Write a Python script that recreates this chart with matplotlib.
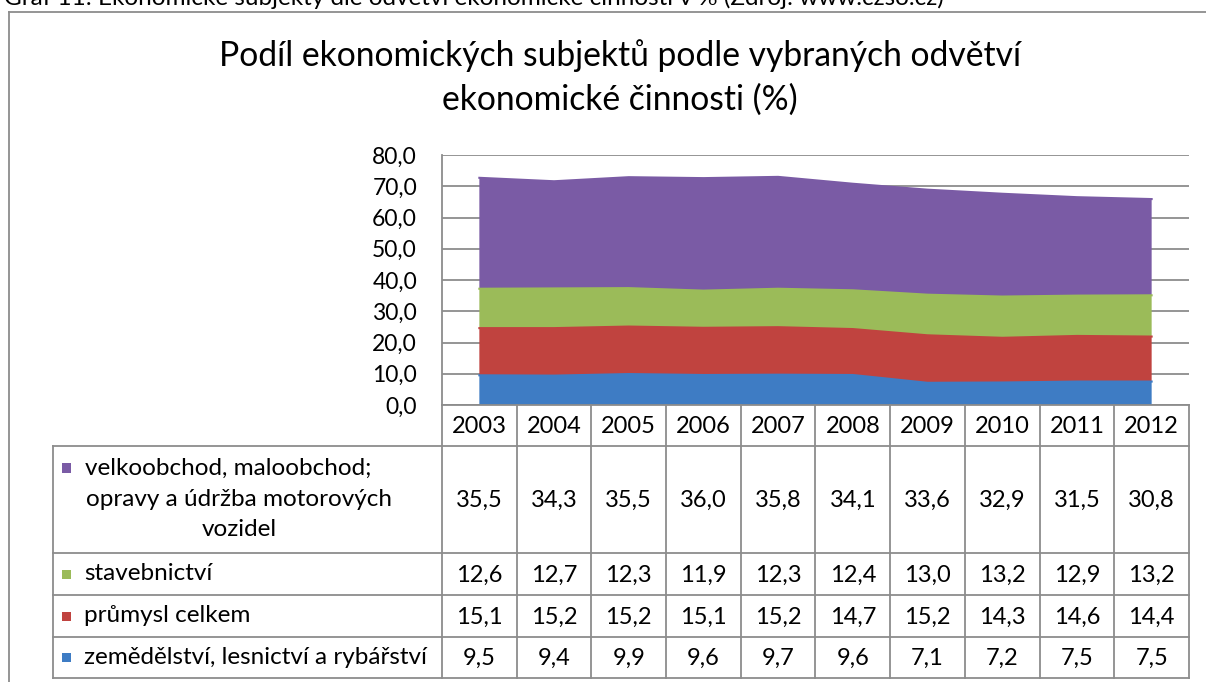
import matplotlib
matplotlib.use("Agg")
import matplotlib.pyplot as plt
import numpy as np
from matplotlib.lines import Line2D
from matplotlib.patches import Rectangle

plt.rcParams['font.family'] = ['Lato', 'DejaVu Sans']

years = ["2003", "2004", "2005", "2006", "2007", "2008", "2009", "2010", "2011", "2012"]
zemedelstvi = [9.5, 9.4, 9.9, 9.6, 9.7, 9.6, 7.1, 7.2, 7.5, 7.5]
prumysl = [15.1, 15.2, 15.2, 15.1, 15.2, 14.7, 15.2, 14.3, 14.6, 14.4]
stavebnictvi = [12.6, 12.7, 12.3, 11.9, 12.3, 12.4, 13.0, 13.2, 12.9, 13.2]
velkoobchod = [35.5, 34.3, 35.5, 36.0, 35.8, 34.1, 33.6, 32.9, 31.5, 30.8]

series_names = ["zemědělství, lesnictví a rybářství", "průmysl celkem", "stavebnictví",
                "velkoobchod, maloobchod;\nopravy a údržba motorových\nvozidel"]
colors = ["#3E7CC4", "#C0433F", "#9BBB59", "#7A5BA5"]
yticks = [0, 10, 20, 30, 40, 50, 60, 70, 80]

title_lines = ["Podíl ekonomických subjektů podle vybraných odvětví", "ekonomické činnosti (%)"]
caption = "Graf 11: Ekonomické subjekty dle odvětví ekonomické činnosti v % (Zdroj: www.czso.cz)"

W, H = 1206, 682
fig = plt.figure(figsize=(W / 100, H / 100), dpi=100)

def fx(px):
    return px / W

def fy(py):
    return 1 - py / H

grid_c = "#8C8C8C"

# outer frame
fig.add_artist(Line2D([fx(9), fx(9)], [fy(12), fy(700)], color=grid_c, lw=1.3))
fig.add_artist(Line2D([fx(9), fx(1210)], [fy(12), fy(12)], color=grid_c, lw=1.3))
fig.text(fx(4), fy(5), caption, fontsize=17.5, va='baseline', ha='left', color='black')

# title
fig.text(fx(620), fy(66), title_lines[0], fontsize=24.2, ha='center', va='baseline')
fig.text(fx(620), fy(110), title_lines[1], fontsize=24.2, ha='center', va='baseline')

left, right, top, bottom = 442, 1189, 155, 405
ax = fig.add_axes([fx(left), fy(bottom), fx(right) - fx(left), fy(top) - fy(bottom)])
x = np.arange(len(years))
data = [zemedelstvi, prumysl, stavebnictvi, velkoobchod]
ax.stackplot(x, *data, colors=colors, edgecolor='none', zorder=3)
cum = np.zeros(len(years))
for d, c in zip(data, colors):
    cum = cum + np.array(d)
    ax.plot(x, cum, color=c, lw=1.5, zorder=4)
ax.set_xlim(-0.5, len(years) - 0.5)
ax.set_ylim(0, 80)
ax.set_yticks(yticks)
ax.set_yticklabels([f"{v:.1f}".replace('.', ',') for v in yticks], fontsize=16.5)
ax.set_xticks([])
ax.yaxis.grid(True, color=grid_c, lw=1.3, zorder=0)
ax.set_axisbelow(True)
for s in ['top', 'right', 'bottom']:
    ax.spines[s].set_visible(False)
ax.spines['left'].set_color(grid_c)
ax.spines['left'].set_linewidth(1.3)
ax.tick_params(axis='y', length=0, pad=18)

# table
fig.canvas.draw()
def data_x_to_px(v):
    return ax.transData.transform((v, 0))[0]

col_edges = [data_x_to_px(i - 0.5) for i in range(len(years) + 1)]
row_edges = [405, 446, 553, 595, 637, 678]
tab_left = 53
lw = 1.3
for xe in col_edges:
    fig.add_artist(Line2D([fx(xe), fx(xe)], [fy(row_edges[0]), fy(row_edges[-1])], color=grid_c, lw=lw))
fig.add_artist(Line2D([fx(col_edges[0]), fx(col_edges[-1])], [fy(row_edges[0]), fy(row_edges[0])], color=grid_c, lw=lw))
for ye in row_edges[1:]:
    fig.add_artist(Line2D([fx(tab_left), fx(col_edges[-1])], [fy(ye), fy(ye)], color=grid_c, lw=lw))
fig.add_artist(Line2D([fx(tab_left), fx(tab_left)], [fy(row_edges[1]), fy(row_edges[-1])], color=grid_c, lw=lw))

fs = 17
lfs = 17.5
for i, yr in enumerate(years):
    cx = (col_edges[i] + col_edges[i + 1]) / 2
    fig.text(fx(cx), fy((row_edges[0] + row_edges[1]) / 2 + 1), yr, fontsize=fs, ha='center', va='center')

order = [3, 2, 1, 0]
key = 9
for r, si in enumerate(order):
    y0, y1 = row_edges[r + 1], row_edges[r + 2]
    cy = (y0 + y1) / 2
    for i in range(len(years)):
        cx = (col_edges[i] + col_edges[i + 1]) / 2
        fig.text(fx(cx), fy(cy + 1), f"{data[si][i]:.1f}".replace('.', ','), fontsize=fs, ha='center', va='center')
    if si == 3:
        lines = series_names[si].split("\n")
        ys = [468, 499, 530]
        fig.add_artist(Rectangle((fx(62), fy(ys[0] + key / 2)), fx(key), fy(ys[0] - key / 2) - fy(ys[0] + key / 2),
                                 facecolor=colors[si], edgecolor='none'))
        fig.text(fx(85), fy(ys[0]), lines[0], fontsize=lfs, ha='left', va='center')
        fig.text(fx(239), fy(ys[1]), lines[1], fontsize=lfs, ha='center', va='center')
        fig.text(fx(239), fy(ys[2]), lines[2], fontsize=lfs, ha='center', va='center')
    else:
        fig.add_artist(Rectangle((fx(62), fy(cy + key / 2)), fx(key), fy(cy - key / 2) - fy(cy + key / 2),
                                 facecolor=colors[si], edgecolor='none'))
        fig.text(fx(84), fy(cy), series_names[si], fontsize=lfs, ha='left', va='center')

fig.savefig("out.png", dpi=100)
